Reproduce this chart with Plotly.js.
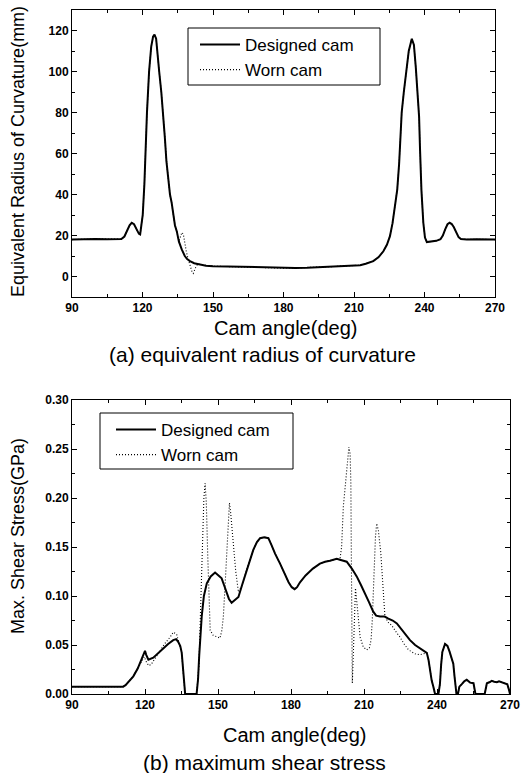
<!DOCTYPE html>
<html>
<head>
<meta charset="utf-8">
<script src="https://cdn.plot.ly/plotly-3.0.1.min.js"></script>
<style>html,body{margin:0;padding:0;background:#fff;}#chart{width:521px;height:773px;}</style>
</head>
<body>
<div id="chart"></div>
<script>
// ---------- (a) equivalent radius of curvature ----------
const angleA_designed = [90,95,100,105,111,112.3,113.5,114.5,115.4,116.4,117.5,118.5,119,119.5,120.1,120.8,121.4,121.9,122.8,123.7,124.5,125.1,125.8,126.4,127.1,128,128.8,129.5,130.2,131,131.7,132.4,133.2,133.8,134.6,135.5,136.7,138,139,140.2,142,144.5,147,150,155,160,165,170,175,180,185,190,195,200,205,210,212.6,215,218.2,220.5,222.5,224,225.3,226.4,227.4,228.4,229.2,229.9,230.3,231.2,232.2,233.3,234.6,235.5,236.3,237,237.7,238.1,238.7,239.5,240.2,241,242.5,245,246.8,247.8,248.8,249.8,250.7,251.6,252.5,253.5,254.5,255.5,258,262,266,270];
const radiusA_designed = [18,18.2,18.3,18.2,18.3,19.5,22.5,25,26.2,25.5,23,20.8,20.5,24,30,45,65,80,100,112,117,118,116,110,100,90,80,68,56,46,40,36,29,25,22,17,13.2,10,8.5,7.5,6.5,5.9,5.3,5.0,4.9,4.7,4.5,4.3,4.2,4.1,4.2,4.3,4.5,4.8,5.1,5.3,5.5,6.2,7.5,9.5,12.3,15.5,19.7,26,34.3,42.4,55,70,80,90,100,110,116,113,102,90,78,62,42,26.2,19,16.8,17,17.4,18.2,20,23,25.5,26.2,25.6,24,21.5,19.2,18.3,18.1,18.2,18.1,18];
// worn cam differs from the designed cam only in this stretch
const angleA_wornSeg = [135.5,136.3,136.8,137.4,138,138.6,139.2,139.9,140.5,141.1,141.6,142.2,142.9,143.6];
const radiusA_wornSeg = [17,20,21.5,20.5,16,12.5,9.5,6.5,4,2.2,1.5,3,5.2,6.0];

// ---------- (b) maximum shear stress ----------
const angleB_designed = [90,100,111,112,113,114,115.2,117,118.6,119.5,120,120.5,121.4,123.4,125.5,127.5,129.5,131.6,132.8,133.7,134.5,135.1,135.6,136.1,136.5,141.2,141.8,142.3,142.8,143.3,144.2,145.4,147,148.8,150.2,151.5,152.5,153.5,154.5,155.6,157,158.4,160,161.8,163,164.5,166,167.3,169,170.7,172,173.5,175.5,177.5,179,180.3,181.5,182.5,183.7,186,189,191.9,194,196,198.8,200.1,202.9,205,207,208.8,210.4,212,213.8,215,216.6,218.5,220,221.8,223.5,226,228.9,231,233,235.8,236.5,237.1,237.8,238.5,239.2,240.6,241.2,241.7,242.2,243.3,244.3,245.2,246,246.7,247.2,247.6,248,248.6,249.2,250.2,251.2,252.2,253,253.6,255,255.5,255.8,259.6,260,260.5,261.5,262.5,263.5,264.6,265.5,266.7,268,268.9,269.5,270];
const stressB_designed = [0.0075,0.0075,0.0075,0.009,0.012,0.015,0.018,0.026,0.035,0.040,0.044,0.040,0.035,0.037,0.042,0.047,0.051,0.055,0.056,0.053,0.049,0.042,0.025,0.008,0,0,0.015,0.040,0.062,0.079,0.100,0.113,0.120,0.124,0.121,0.118,0.111,0.104,0.097,0.093,0.096,0.099,0.112,0.127,0.136,0.147,0.155,0.159,0.160,0.159,0.152,0.143,0.133,0.122,0.114,0.109,0.107,0.109,0.114,0.121,0.128,0.133,0.135,0.136,0.138,0.137,0.135,0.128,0.120,0.111,0.103,0.094,0.084,0.080,0.079,0.079,0.077,0.075,0.072,0.064,0.055,0.050,0.047,0.042,0.035,0.024,0.014,0.0075,0,0,0.010,0.030,0.043,0.051,0.049,0.043,0.037,0.031,0.018,0.006,0,0,0.0075,0.010,0.013,0.0145,0.013,0.0116,0.011,0.004,0,0,0.006,0.011,0.012,0.0135,0.0125,0.012,0.013,0.012,0.0115,0.010,0.005,0];
// worn cam deviates from the designed cam in three stretches
const angleB_wornSeg1 = [113.5,115.2,117,118.6,119.7,120.5,121.5,122.5,124,126,128,130.3,131.6,133,133.8];
const stressB_wornSeg1 = [0.013,0.018,0.026,0.033,0.038,0.033,0.029,0.030,0.036,0.044,0.051,0.058,0.063,0.061,0.053];
const angleB_wornSeg2 = [142.2,142.8,143.6,144.2,144.7,145.2,145.8,146.3,146.8,148,149.5,150.8,151.6,152.2,153,153.6,154.2,154.7,155.2,155.8,156.3,157.3,158.4];
const stressB_wornSeg2 = [0.030,0.083,0.150,0.200,0.215,0.195,0.140,0.090,0.065,0.060,0.058,0.057,0.065,0.079,0.115,0.147,0.180,0.195,0.185,0.165,0.150,0.125,0.104];
const angleB_wornSeg3 = [200.8,201.5,202.5,203.2,203.8,204.3,204.6,204.8,205,205.2,205.6,206,206.5,207.2,208.4,209.7,211.1,212.2,212.9,213.4,214.1,214.7,215.2,215.9,216.9,217.7,218.6,220,221.4,223,224.8,226.5,228.3,231,233,234.5];
const stressB_wornSeg3 = [0.150,0.191,0.216,0.235,0.252,0.245,0.215,0.140,0.064,0.011,0.040,0.080,0.108,0.090,0.058,0.048,0.045,0.047,0.055,0.075,0.127,0.160,0.174,0.167,0.144,0.113,0.079,0.073,0.070,0.064,0.058,0.051,0.045,0.041,0.040,0.041];

const seriesNames = ['Designed cam', 'Worn cam'];
const angleTicks = [90,120,150,180,210,240,270];

// merge: designed curve with some stretches replaced by worn readings
function mergeWorn(baseX, baseY, segs) {
  const pts = [];
  baseX.forEach((x, i) => {
    const inside = segs.some(s => x >= s[0][0] && x <= s[0][s[0].length - 1]);
    if (!inside) pts.push([x, baseY[i]]);
  });
  segs.forEach(s => s[0].forEach((x, i) => pts.push([x, s[1][i]])));
  pts.sort((a, b) => a[0] - b[0]);
  return [pts.map(p => p[0]), pts.map(p => p[1])];
}
const wornA = mergeWorn(angleA_designed, radiusA_designed, [[angleA_wornSeg, radiusA_wornSeg]]);
const wornB = mergeWorn(angleB_designed, stressB_designed, [
  [angleB_wornSeg1, stressB_wornSeg1], [angleB_wornSeg2, stressB_wornSeg2], [angleB_wornSeg3, stressB_wornSeg3]]);

const FONT = 'Liberation Sans, Arial, sans-serif';
const solid = {color: '#000', width: 2};
const dotted = {color: '#000', width: 1.1, dash: '1px,2px'};

const traces = [
  {x: angleA_designed, y: radiusA_designed, name: seriesNames[0], type: 'scatter', mode: 'lines', line: solid, xaxis: 'x', yaxis: 'y', legend: 'legend'},
  {x: wornA[0], y: wornA[1], name: seriesNames[1], type: 'scatter', mode: 'lines', line: dotted, xaxis: 'x', yaxis: 'y', legend: 'legend'},
  {x: angleB_designed, y: stressB_designed, name: seriesNames[0], type: 'scatter', mode: 'lines', line: solid, xaxis: 'x2', yaxis: 'y2', legend: 'legend2'},
  {x: wornB[0], y: wornB[1], name: seriesNames[1], type: 'scatter', mode: 'lines', line: dotted, xaxis: 'x2', yaxis: 'y2', legend: 'legend2'}
];

const tickFont = {family: FONT, size: 12, color: '#000', weight: 'bold'};
function axisBase(extra) {
  return Object.assign({
    showline: true, linecolor: '#000', linewidth: 1, mirror: 'allticks',
    ticks: 'inside', ticklen: 5, tickwidth: 1, tickcolor: '#000',
    showgrid: false, zeroline: false, tickfont: tickFont, fixedrange: true
  }, extra);
}

const W = 521, H = 773;
const px = v => v / W, py = v => 1 - v / H;

const layout = {
  width: W, height: H,
  margin: {l: 0, r: 0, t: 0, b: 0},
  paper_bgcolor: '#fff', plot_bgcolor: '#fff',
  showlegend: true,
  xaxis: axisBase({domain: [px(72), px(495)], range: [90, 270], tickvals: angleTicks, anchor: 'y',
    minor: {ticks: 'inside', ticklen: 3, dtick: 15, tick0: 90, tickcolor: '#000'}}),
  yaxis: axisBase({domain: [py(297), py(10)], range: [-10, 130], tick0: 0, dtick: 20, anchor: 'x',
    minor: {ticks: 'inside', ticklen: 3, dtick: 10, tick0: 0, tickcolor: '#000'}}),
  xaxis2: axisBase({domain: [px(72), px(510)], range: [90, 270], tickvals: angleTicks, anchor: 'y2',
    minor: {ticks: 'inside', ticklen: 3, dtick: 15, tick0: 90, tickcolor: '#000'}}),
  yaxis2: axisBase({domain: [py(694), py(400)], range: [0, 0.30], tick0: 0, dtick: 0.05, tickformat: '.2f', anchor: 'x2',
    minor: {ticks: 'inside', ticklen: 3, dtick: 0.025, tick0: 0, tickcolor: '#000'}}),
  legend: {x: px(195), y: py(27), xanchor: 'left', yanchor: 'top', bgcolor: 'rgba(0,0,0,0)', borderwidth: 0,
    font: {family: FONT, size: 17, color: '#000'}, itemwidth: 40, tracegroupgap: 0},
  legend2: {x: px(111), y: py(412), xanchor: 'left', yanchor: 'top', bgcolor: 'rgba(0,0,0,0)', borderwidth: 0,
    font: {family: FONT, size: 17, color: '#000'}, itemwidth: 40, tracegroupgap: 0},
  shapes: [
    {type: 'rect', xref: 'paper', yref: 'paper', x0: px(188), x1: px(380), y0: py(85), y1: py(28),
      line: {color: '#000', width: 1}, fillcolor: 'rgba(0,0,0,0)', layer: 'above'},
    {type: 'rect', xref: 'paper', yref: 'paper', x0: px(100), x1: px(293), y0: py(469), y1: py(413),
      line: {color: '#000', width: 1}, fillcolor: 'rgba(0,0,0,0)', layer: 'above'}
  ],
  annotations: [
    {text: 'Equivalent Radius of Curvature(mm)', xref: 'paper', yref: 'paper', x: px(18), y: py(152), textangle: -90,
      showarrow: false, xanchor: 'center', yanchor: 'middle', font: {family: FONT, size: 18, color: '#000'}},
    {text: 'Cam angle(deg)', xref: 'paper', yref: 'paper', x: px(285), y: py(328),
      showarrow: false, xanchor: 'center', yanchor: 'middle', font: {family: FONT, size: 20, color: '#000'}},
    {text: '(a) equivalent radius of curvature', xref: 'paper', yref: 'paper', x: px(262), y: py(354),
      showarrow: false, xanchor: 'center', yanchor: 'middle', font: {family: FONT, size: 21, color: '#000'}},
    {text: 'Max. Shear Stress(GPa)', xref: 'paper', yref: 'paper', x: px(18), y: py(536), textangle: -90,
      showarrow: false, xanchor: 'center', yanchor: 'middle', font: {family: FONT, size: 18, color: '#000'}},
    {text: 'Cam angle(deg)', xref: 'paper', yref: 'paper', x: px(294), y: py(735),
      showarrow: false, xanchor: 'center', yanchor: 'middle', font: {family: FONT, size: 20, color: '#000'}},
    {text: '(b) maximum shear stress', xref: 'paper', yref: 'paper', x: px(264), y: py(762),
      showarrow: false, xanchor: 'center', yanchor: 'middle', font: {family: FONT, size: 21, color: '#000'}}
  ]
};

Plotly.newPlot('chart', traces, layout, {staticPlot: true, displayModeBar: false});
</script>
</body>
</html>
